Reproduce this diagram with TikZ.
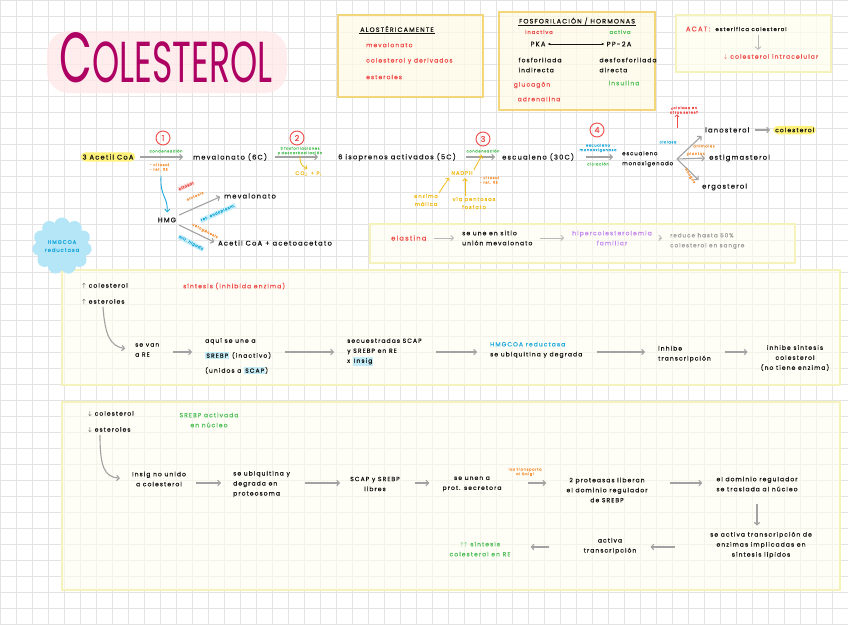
\documentclass[tikz,border=0pt]{standalone}
\usepackage{fontspec}
\setmainfont{Poppins}
\newfontfamily\hand[LetterSpace=18,FakeBold=0.5]{Poppins}
\newfontfamily\titlefont{Poppins}
\usepackage{graphicx}
\usetikzlibrary{arrows.meta,positioning,calc,shapes.symbols}

\definecolor{ink}{HTML}{141414}
\definecolor{titlemag}{HTML}{AE0063}
\definecolor{titleglow}{HTML}{FEE9E8}
\definecolor{notered}{HTML}{EE4A48}
\definecolor{notegreen}{HTML}{4DBF57}
\definecolor{noteorange}{HTML}{F7943C}
\definecolor{noteyellow}{HTML}{F0BD1E}
\definecolor{noteblue}{HTML}{1CA8DD}
\definecolor{notepurple}{HTML}{C488EE}
\definecolor{softgray}{HTML}{9C9C9C}
\definecolor{hlyellow}{HTML}{FFF27A}
\definecolor{hlblue}{HTML}{C4EDF8}
\definecolor{hlpink}{HTML}{FAD2D0}
\definecolor{cloudblue}{HTML}{B4E6F7}
\definecolor{arrowgray}{HTML}{A2A2A2}
\definecolor{gridgray}{HTML}{E3E3E3}
\definecolor{boxgold}{HTML}{F3D57A}
\definecolor{boxfill}{HTML}{FFFAE6}
\definecolor{paleborder}{HTML}{F6F2BC}
\definecolor{palefill}{HTML}{FEFEF0}

\setlength{\fboxsep}{1.2pt}
\newcommand{\hlb}[1]{\colorbox{hlblue}{#1}}

\tikzset{
  txt/.style={font=\hand\fontsize{6.7}{11}\selectfont, text=ink, inner sep=2pt, align=left},
  sml/.style={txt, font=\hand\fontsize{6}{10}\selectfont},
  hdr/.style={font=\hand\fontsize{6.4}{7}\selectfont, text=ink, inner sep=1pt},
  lbl/.style={font=\hand\fontsize{3.6}{4.6}\selectfont, inner sep=0.6pt, align=center},
  mid/.style={font=\hand\fontsize{5.2}{8}\selectfont, inner sep=1pt, align=center},
  garrow/.style={draw=arrowgray, line width=1.1pt, -{Straight Barb[length=2.6pt,width=5.5pt]}},
  larrow/.style={garrow, draw=arrowgray!75, line width=0.9pt},
  yarrow/.style={draw=noteyellow, line width=0.8pt, -{Straight Barb[length=2.4pt,width=4.5pt]}, shorten >=2pt},
  barrow/.style={draw=noteblue, line width=0.9pt, -{Straight Barb[length=2.6pt,width=5pt]}, shorten >=3pt},
  rarrow/.style={draw=notered, line width=0.7pt, -{Straight Barb[length=2pt,width=4pt]}},
  numc/.style={circle, draw=notered, text=notered, line width=0.9pt, minimum size=14pt, inner sep=0pt,
    font=\hand\fontsize{8}{8}\selectfont},
  hl/.style={fill=hlyellow, rounded corners=5pt},
  notebox/.style={draw=boxgold, line width=1.4pt, fill=boxfill, fill opacity=0.75},
  lightbox/.style={draw=paleborder, line width=1.4pt, fill=palefill, fill opacity=0.75},
  pagebox/.style={draw=paleborder, line width=1.1pt, fill=palefill, fill opacity=0.6},
  gridline/.style={draw=gridgray, line width=0.6pt}
}

\begin{document}
\begin{tikzpicture}[x=1pt,y=-1pt]
    \useasboundingbox (0,0) rectangle (848,624);
    \fill[white] (0,0) rectangle (848,624);

    % Grid
    \foreach \i in {0,16,...,848} \draw[gridline] (\i,0) -- (\i,624);
    \foreach \j in {0,16,...,624} \draw[gridline] (0,\j) -- (848,\j);

    % Boxes
    \filldraw[notebox] (338,15) rectangle (483,97);
    \filldraw[notebox] (499,12) rectangle (655,110);
    \filldraw[lightbox] (676,15) rectangle (831,72);
    \filldraw[pagebox] (370,224) rectangle (795,263);
    \filldraw[pagebox] (62,270) rectangle (840,385);
    \filldraw[pagebox] (62,402) rectangle (840,590);

    % Title
    \fill[titleglow, rounded corners=22pt, opacity=0.8] (47,31) rectangle (287,93);
    \node[inner sep=0pt, text=titlemag, anchor=south] (ttl) at (166,83)
        {\resizebox{213pt}{50pt}{\titlefont\fontsize{38}{38}\selectfont C\fontsize{31}{31}\selectfont OLESTEROL}};

    % Alosterica
    \node[hdr] (alohd) at (397,29) {ALOSTÉRICAMENTE};
    \draw[ink, line width=0.6pt] (alohd.south west) -- (alohd.south east);
    \foreach \t [count=\i] in {mevalonato, colesterol y derivados, esteroles}
        \node[sml, text=notered, anchor=west] (alo\i) at (364,29+16*\i) {\t};

    % Fosforilacion / hormonas
    \node[hdr] (foshd) at (577,21) {FOSFORILACIÓN / HORMONAS};
    \draw[ink, line width=0.6pt] (foshd.south west) -- (foshd.south east);
    \node[mid, text=notered] (inac) at (539,32) {inactiva};
    \node[mid, text=notegreen] (actv) at (620,32) {activa};
    \node[txt] (pka) at (538,44) {PKA};
    \node[txt] (pp2a) at (619,44) {PP-2A};
    \draw[ink, line width=0.8pt, {Stealth[length=3pt]}-{Stealth[length=3pt]}] (pka) -- (pp2a);
    \node[sml] (fosi) at (540,65) {fosforilada\\indirecta};
    \node[sml] (desf) at (628,65) {desfosforilada\\directa};
    \node[sml, text=notered] (gluc) at (532,85) {glucagón};
    \node[sml, text=notered] (adre) at (539,99) {adrenalina};
    \node[sml, text=notegreen] (insu) at (624,83) {insulina};

    % ACAT
    \node[txt, text=notered] (acat) at (698,29) {ACAT:};
    \node[sml, font=\hand\fontsize{5.4}{10}\selectfont, right=1pt of acat] (ester) {esterifica colesterol};
    \node[sml, text=notered] (cint) at (771,57) {$\downarrow$ colesterol intracelular};
    \draw[larrow, shorten <=2pt, shorten >=2pt] (ester.south -| 758,0) -- (cint.north -| 758,0);

    % Via principal
    \node[txt, hl] (acoa) at (108,157) {3 Acetil CoA};
    \node[txt, anchor=west] (meva) at (191,157) {mevalonato (6C)};
    \node[txt, anchor=west] (isop) at (336,157) {6 isoprenos activados (5C)};
    \node[txt, anchor=west] (escu) at (500,157) {escualeno (30C)};
    \node[txt, anchor=west, font=\hand\fontsize{5.3}{10}\selectfont] (esmo) at (620,159) {escualeno\\monoxigenado};
    \foreach \a/\b/\s/\e in {acoa/meva/4/8, meva/isop/6/18, isop/escu/8/5, escu/esmo/10/7}
        \draw[garrow, shorten <=\s pt, shorten >=\e pt] (\a.east |- 0,157) -- (\b.west |- 0,157);
    \foreach \n/\x/\y in {1/163/138, 2/297/138, 3/483/139, 4/597/130}
        \node[numc] (n\n) at (\x,\y) {\n};

    % Etiquetas de las flechas
    \node[lbl, text=notegreen] (c1) at (166,151) {condensación};
    \node[lbl, text=noteorange, align=left, anchor=west] (loc1) at (149,167) {- citosol\\- ret. RE};
    \node[lbl, text=notegreen] (fosf) at (300,151) {3 fosforilaciones\\y descarboxilación};
    \node[mid, text=noteyellow] (co2) at (309,174) {CO$_2$ + P$_i$};
    \draw[yarrow] (fosf.south) .. controls (300,166) and (303,166) .. (co2.north);
    \node[lbl, text=notegreen] (c3) at (483,151) {condensación};
    \node[mid, text=noteyellow] (nadph) at (462,173) {NADPH};
    \draw[yarrow] (nadph.north east) -- (c3.south);
    \node[lbl, text=noteorange, align=left, anchor=west] (loc3) at (479,180) {- citosol\\- ret. RE};
    \node[mid, text=noteyellow] (emal) at (426,200) {enzima\\málica};
    \node[mid, text=noteyellow] (vpf) at (474,203) {vía pentosas\\fosfato};
    \draw[yarrow] (emal.north east) -- (nadph.south west);
    \draw[yarrow] ([xshift=-9pt]vpf.north) -- ([xshift=-9pt]vpf.north |- nadph.south);
    \node[lbl, text=noteblue] (mono) at (598,148) {escualeno\\monooxigenasa};
    \node[lbl, text=notegreen] (cicl) at (598,164) {ciclación};

    % Ramas de los esteroles
    \coordinate (fork) at (677,159);
    \node[txt, anchor=west] (lano) at (703,130) {lanosterol};
    \node[txt, anchor=west] (estg) at (707,158) {estigmasterol};
    \node[txt, anchor=west] (ergo) at (700,187) {ergosterol};
    \node[sml, hl, anchor=west] (colf) at (773,130) {colesterol};
    \draw[garrow, shorten >=2pt] (fork) -- (lano.south west);
    \draw[garrow, shorten >=2pt] (fork) -- (estg.west);
    \draw[garrow, shorten >=2pt] (fork) -- (ergo.north west);
    \draw[garrow, shorten <=3pt, shorten >=3pt] (lano) -- (colf);
    \node[lbl, text=noteblue] (cicla) at (668,142) {ciclasa};
    \node[lbl, text=noteorange] (anim) at (704,146) {animales};
    \node[lbl, text=noteorange] (plan) at (696,154) {plantas};
    \node[lbl, text=noteorange, rotate=-58] (hong) at (690,176) {hongos};
    \node[lbl, text=notered] (quest) at (684,110) {¿ciclasa en\\otros seres?};
    \coordinate (qfoot) at (677,128);
    \draw[rarrow] (qfoot) -- (qfoot |- quest.south);

    % HMG
    \coordinate (hstart) at (161,176);
    \node[txt] (hmg) at (167,220) {HMG};
    \draw[barrow] (hstart) .. controls (160,198) and (168,196) .. (hmg.north);
    \node[txt, anchor=west] (meva2) at (222,196) {mevalonato};
    \node[txt, anchor=west] (acac) at (216,243) {Acetil CoA + acetoacetato};
    \draw[garrow, shorten <=1pt, shorten >=2pt] (hmg.north east) -- (meva2.west);
    \draw[garrow, shorten <=1pt, shorten >=2pt] (hmg.south east) -- (acac.west);
    \node[lbl, text=notered, fill=hlpink, rotate=24] (u1) at (186,186) {citosol};
    \node[lbl, text=noteorange, rotate=24] (u2) at (195,196) {síntesis};
    \node[lbl, text=noteblue, fill=hlblue, rotate=24] (u3) at (218,213) {ret. endoplasm.};
    \node[lbl, text=noteorange, rotate=-28] (d1) at (205,231) {cetogénesis};
    \node[lbl, text=noteblue, fill=hlblue, rotate=-28] (d2) at (191,243) {mit. hígado};
    \node[cloud, cloud puffs=11, fill=cloudblue, minimum width=60pt, minimum height=30pt,
        mid, text=noteblue, inner sep=0pt] (hmgr) at (62,246) {HMGCOA\\reductasa};

    % Elastina
    \node[txt, text=notered, anchor=west] (elas) at (389,238) {elastina};
    \node[sml, anchor=west] (sitio) at (460,238) {se une en sitio\\unión mevalonato};
    \node[sml, text=notepurple, align=center] (hiper) at (612,238) {hipercolesterolemia\\familiar};
    \node[sml, text=softgray, anchor=west, font=\hand\fontsize{5.6}{10}\selectfont] (redu) at (668,241) {reduce hasta 50\%\\colesterol en sangre};
    \foreach \a/\b in {elas/sitio, sitio/hiper, hiper/redu}
        \draw[larrow, shorten <=5pt, shorten >=6pt] (\a.east |- 0,238) -- (\b.west |- 0,238);

    % Colesterol alto
    \node[sml, anchor=west] (up1) at (80,286) {$\uparrow$ colesterol};
    \node[sml, anchor=west] (up2) at (80,302) {$\uparrow$ esteroles};
    \node[sml, text=notered, anchor=west] (sint) at (181,286) {síntesis (inhibida enzima)};
    \node[sml, anchor=west] (r1) at (133,350) {se van\\a RE};
    \node[sml, anchor=west, font=\hand\fontsize{6}{15}\selectfont] (r2) at (203,356) {aquí se une a\\\hlb{SREBP} (inactivo)\\(unidos a \hlb{SCAP})};
    \node[sml, anchor=west] (r3) at (345,352) {secuestradas SCAP\\y SREBP en RE\\x \hlb{Insig}};
    \node[sml, anchor=west] (r4) at (488,350) {\textcolor{noteblue}{HMGCOA reductasa}\\se ubiquitina y degrada};
    \node[sml, anchor=west] (r5) at (656,354) {inhibe\\transcripción};
    \node[sml, align=center] (r6) at (795,358) {inhibe síntesis\\colesterol\\(no tiene enzima)};
    \foreach \a/\b in {r1/r2, r2/r3, r3/r4, r4/r5, r5/r6}
        \draw[garrow, shorten <=12pt, shorten >=11pt] (\a.east |- 0,352) -- (\b.west |- 0,352);
    \draw[garrow, shorten >=8pt] ([xshift=23pt]up2.south west) .. controls (105,335) and (110,346) .. (r1.west);

    % Colesterol bajo
    \node[sml, anchor=west] (dn1) at (86,414) {$\downarrow$ colesterol};
    \node[sml, anchor=west] (dn2) at (86,430) {$\downarrow$ esteroles};
    \node[sml, text=notegreen, align=center] (sact) at (209,420) {SREBP activada\\en núcleo};
    \node[sml, align=center] (s1) at (159,479) {Insig no unido\\a colesterol};
    \node[sml, anchor=west] (s2) at (231,484) {se ubiquitina y\\degrada en\\proteosoma};
    \node[sml, align=center] (s3) at (375,484) {SCAP y SREBP\\libres};
    \node[sml, align=center] (s4) at (472,484) {se unen a\\prot. secretora};
    \node[lbl, text=noteorange] (golgi) at (525,472) {las transporta\\al Golgi};
    \node[sml, align=center] (s5) at (607,490) {2 proteasas liberan\\el dominio regulador\\de SREBP};
    \node[sml, align=center] (s6) at (757,484) {el dominio regulador\\se traslada al núcleo};
    \node[sml, align=center] (s7) at (761,545) {se activa transcripción de\\enzimas implicadas en\\síntesis lípidos};
    \node[sml, align=center] (s8) at (610,546) {activa\\transcripción};
    \node[sml, text=notegreen, align=center] (s9) at (480,549) {$\uparrow\uparrow$ síntesis\\colesterol en RE};
    \foreach \a/\b/\s/\e in {s1/s2/8/10, s2/s3/13/8, s3/s4/13/11, s4/s5/24/18, s5/s6/20/12}
        \draw[garrow, shorten <=\s pt, shorten >=\e pt] (\a.east |- 0,483) -- (\b.west |- 0,483);
    \draw[garrow, shorten <=10pt, shorten >=4pt] (s6.south) -- (s6.south |- s7.north);
    \draw[garrow, shorten <=33pt, shorten >=12pt] (s7.west |- 0,547) -- (s8.east |- 0,547);
    \draw[garrow, shorten <=32pt, shorten >=18pt] (s8.west |- 0,547) -- (s9.east |- 0,547);
    \draw[garrow, shorten >=10pt] ([xshift=14pt]dn2.south west) .. controls (100,466) and (104,477) .. (s1.west);
\end{tikzpicture}
\end{document}
